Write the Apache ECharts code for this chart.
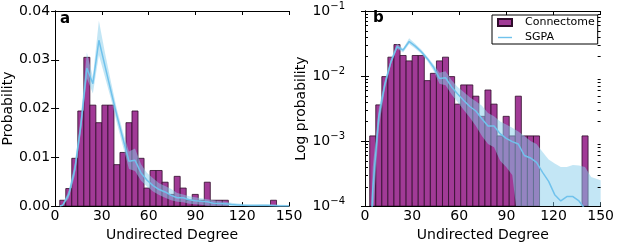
<!DOCTYPE html>
<html>
<head>
<meta charset="utf-8">
<script src="https://cdn.jsdelivr.net/npm/echarts@6/dist/echarts.min.js"></script>
<style>
  html, body { margin: 0; padding: 0; background: #fff; }
  #myChart { width: 617px; height: 247px; }
</style>
</head>
<body>
<div id="myChart"></div>
<script>
  // histogram bin edges (undirected degree)
  var binEdges = [3.00, 6.86, 10.72, 14.58, 18.44, 22.31, 26.17, 30.03, 33.89, 37.75,
    41.61, 45.47, 49.33, 53.19, 57.06, 60.92, 64.78, 68.64, 72.50, 76.36,
    80.22, 84.08, 87.94, 91.81, 95.67, 99.53, 103.39, 107.25, 111.11, 114.97,
    118.83, 122.69, 126.56, 130.42, 134.28, 138.14, 142.00];
  // connectome probability per bin
  var connectomeProb = [0.0012, 0.0036, 0.0098, 0.0195, 0.0305, 0.0207, 0.0171, 0.0207, 0.0207, 0.0085,
    0.0110, 0.0171, 0.0195, 0.0098, 0.0037, 0.0073, 0.0073, 0.0049, 0.0024, 0.0061,
    0.0037, 0.0012, 0.0024, 0.0012, 0.0049, 0.0012, 0.0012, 0.0012, 0, 0,
    0, 0, 0, 0, 0, 0.0012];
  // SGPA model: mean and band
  var sgpaDegree = [3.0, 4.93, 8.79, 12.65, 16.51, 20.38, 24.24, 28.10, 31.96, 35.82,
    39.68, 43.54, 47.40, 51.26, 55.13, 58.99, 62.85, 66.71, 70.57, 74.43,
    78.29, 82.15, 86.01, 89.88, 93.74, 97.60, 101.46, 105.32, 109.18, 113.04,
    116.90, 120.76, 124.63, 128.49, 132.35, 136.21, 140.07, 143.93, 150];
  var sgpaMean = [0.00001, 0.00018, 0.0024, 0.0075, 0.0165, 0.0283, 0.0251, 0.0340, 0.0288, 0.0236,
    0.0185, 0.0138, 0.0092, 0.0094, 0.0068, 0.0053, 0.0042, 0.0034, 0.0029, 0.0022,
    0.0017, 0.0017, 0.0013, 0.0011, 0.00098, 0.0009, 0.0006, 0.00055, 0.00047, 0.00033,
    0.00024, 0.00015, 0.00012, 0.00014, 0.00014, 0.00012, 0.00009, 0.00004, 0.00003];
  var sgpaLow = [0.000001, 0.00006, 0.0016, 0.0062, 0.0150, 0.0262, 0.0231, 0.0310, 0.0265, 0.0220,
    0.0170, 0.0122, 0.0076, 0.0072, 0.0052, 0.0040, 0.0030, 0.0023, 0.0017, 0.0012,
    0.0009, 0.0008, 0.0005, 0.0004, 0.0003, 0.00005, 0.00001, 0.00001, 0.00001, 0.00001,
    0.00001, 0.00001, 0.00001, 0.00001, 0.00001, 0.00001, 0.00001, 0.00001, 0.00001];
  var sgpaHigh = [0.00002, 0.0004, 0.0032, 0.0088, 0.0182, 0.0315, 0.0265, 0.0380, 0.0315, 0.0255,
    0.0198, 0.0152, 0.0112, 0.0118, 0.0086, 0.0068, 0.0057, 0.0047, 0.0041, 0.0035,
    0.0027, 0.0024, 0.0020, 0.0018, 0.0016, 0.0014, 0.0012, 0.0010, 0.0009, 0.00068,
    0.00052, 0.00045, 0.00040, 0.00040, 0.00043, 0.00042, 0.00040, 0.00028, 0.00025];
  // minor ticks of the log axis
  var logMinorTicks = [0.0002, 0.0003, 0.0004, 0.0005, 0.0006, 0.0007, 0.0008, 0.0009,
    0.002, 0.003, 0.004, 0.005, 0.006, 0.007, 0.008, 0.009,
    0.02, 0.03, 0.04, 0.05, 0.06, 0.07, 0.08, 0.09];

  var FONT = 'DejaVu Sans';
  var BAR = '#a13a96';
  var SKY = '#87ceeb';
  var LINE = '#70c2ec';

  var myChart = echarts.init(document.getElementById('myChart'), null, {renderer: 'canvas'});

  function barData() {
    var out = [];
    for (var i = 0; i < connectomeProb.length; i++) {
      if (connectomeProb[i] <= 0) continue;
      out.push([binEdges[i], binEdges[i + 1], connectomeProb[i]]);
    }
    return out;
  }

  function histRender(base) {
    return function (params, api) {
      var p0 = api.coord([api.value(0), api.value(2)]);
      var p1 = api.coord([api.value(1), base]);
      return {
        type: 'rect',
        shape: {x: p0[0], y: p0[1], width: p1[0] - p0[0], height: p1[1] - p0[1]},
        style: {fill: BAR, stroke: '#2e0c2a', lineWidth: 0.8}
      };
    };
  }

  // shaded SGPA band: upper edge forward, lower edge back
  function bandRender(params, api) {
    var pts = [];
    for (var i = 0; i < sgpaDegree.length; i++) pts.push(api.coord([sgpaDegree[i], sgpaHigh[i]]));
    for (var j = sgpaDegree.length - 1; j >= 0; j--) pts.push(api.coord([sgpaDegree[j], sgpaLow[j]]));
    return {
      type: 'polygon',
      shape: {points: pts},
      style: {fill: SKY, opacity: 0.5}
    };
  }

  // short inside ticks on both log axes
  function minorTickRender(params, api) {
    var l = api.coord([0, api.value(1)]);
    var r = api.coord([150, api.value(1)]);
    var y = Math.round(l[1]) + 0.5;
    return {
      type: 'group',
      children: [
        {type: 'line', shape: {x1: l[0], y1: y, x2: l[0] + 3, y2: y}, style: {stroke: '#000', lineWidth: 1}},
        {type: 'line', shape: {x1: r[0] - 3, y1: y, x2: r[0], y2: y}, style: {stroke: '#000', lineWidth: 1}}
      ]
    };
  }

  function pairs(ys) {
    return sgpaDegree.map(function (x, i) { return [x, ys[i]]; });
  }

  function xAx(grid, pos, show) {
    return {
      type: 'value', gridIndex: grid, position: pos, min: 0, max: 150, interval: 30,
      axisLine: {show: true, onZero: false, lineStyle: {color: '#000', width: 1}},
      axisTick: {show: true, inside: true, length: 4, lineStyle: {color: '#000'}},
      axisLabel: {show: show, margin: 3, color: '#000', fontFamily: FONT, fontSize: 14},
      splitLine: {show: false},
      name: show ? 'Undirected Degree' : '', nameLocation: 'middle', nameGap: 21,
      nameTextStyle: {color: '#000', fontFamily: FONT, fontSize: 14}
    };
  }

  function yLin(pos, show) {
    return {
      type: 'value', gridIndex: 0, position: pos, min: 0, max: 0.04, interval: 0.01,
      axisLine: {show: true, lineStyle: {color: '#000', width: 1}},
      axisTick: {show: true, inside: true, length: 4, lineStyle: {color: '#000'}},
      axisLabel: {show: show, margin: 5, color: '#000', fontFamily: FONT, fontSize: 14,
        formatter: function (v) { return v.toFixed(2); }},
      splitLine: {show: false},
      name: show ? 'Probability' : '', nameLocation: 'middle', nameGap: 40,
      nameTextStyle: {color: '#000', fontFamily: FONT, fontSize: 14}
    };
  }

  function yLog(pos, show) {
    return {
      type: 'log', logBase: 10, gridIndex: 1, position: pos, min: 0.0001, max: 0.1,
      axisLine: {show: true, lineStyle: {color: '#000', width: 1}},
      axisTick: {show: true, inside: true, length: 4, lineStyle: {color: '#000'}},
      axisLabel: {show: show, margin: 20, color: '#000', fontFamily: FONT, fontSize: 14,
        formatter: function (v) { return '10{s|\u2212' + Math.round(-Math.log10(v)) + '}'; },
        rich: {s: {fontSize: 10, fontFamily: FONT, color: '#000', padding: [0, 0, 9, 0]}}},
      splitLine: {show: false},
      name: show ? 'Log probability' : '', nameLocation: 'middle', nameGap: 40,
      nameTextStyle: {color: '#000', fontFamily: FONT, fontSize: 14}
    };
  }

  function sgpaSeries(xi, yi) {
    return [
      {
        type: 'custom', xAxisIndex: xi, yAxisIndex: yi, renderItem: bandRender,
        data: [[75, 0.001]], clip: true, silent: true, z: 3
      },
      {
        name: 'SGPA', type: 'line', xAxisIndex: xi, yAxisIndex: yi,
        data: pairs(sgpaMean), symbol: 'none', showSymbol: false, clip: true,
        itemStyle: {color: LINE},
        lineStyle: {color: LINE, width: 1.5}, z: 4
      }
    ];
  }

  var option = {
    animation: false,
    backgroundColor: '#fff',
    textStyle: {fontFamily: FONT},
    grid: [
      {left: 53, right: 328, top: 11, bottom: 36},
      {left: 365, right: 14, top: 11, bottom: 36}
    ],
    xAxis: [xAx(0, 'bottom', true), xAx(0, 'top', false), xAx(1, 'bottom', true), xAx(1, 'top', false)],
    yAxis: [yLin('left', true), yLin('right', false), yLog('left', true), yLog('right', false)],
    legend: {
      data: [
        {name: 'Connectome', icon: 'rect'},
        {name: 'SGPA', icon: 'path://M0,0 L20,0 L20,2 L0,2 Z', itemStyle: {color: LINE}}
      ],
      orient: 'vertical', left: 492, top: 15,
      itemWidth: 14, itemHeight: 7, itemGap: 4,
      padding: [2, 3, 1, 5],
      borderColor: '#000', borderWidth: 1, borderRadius: 0,
      textStyle: {fontFamily: FONT, fontSize: 11, color: '#000', padding: [0, 0, 0, 8]}
    },
    graphic: [
      {type: 'text', left: 60, top: 12, style: {text: 'a', font: 'bold 15px "DejaVu Sans"', fill: '#000'}},
      {type: 'text', left: 373, top: 11, style: {text: 'b', font: 'bold 15px "DejaVu Sans"', fill: '#000'}}
    ],
    series: [
      {
        name: 'Connectome', type: 'custom', xAxisIndex: 0, yAxisIndex: 0,
        renderItem: histRender(0), data: barData(), clip: true,
        itemStyle: {color: BAR, borderColor: '#2e0c2a', borderWidth: 1}, z: 2
      },
      {
        name: 'Connectome', type: 'custom', xAxisIndex: 2, yAxisIndex: 2,
        renderItem: histRender(0.0001), data: barData(), clip: true,
        itemStyle: {color: BAR, borderColor: '#2e0c2a', borderWidth: 1}, z: 2
      },
      {
        type: 'custom', xAxisIndex: 2, yAxisIndex: 2, renderItem: minorTickRender,
        data: logMinorTicks.map(function (v) { return [75, v]; }), silent: true, z: 10
      }
    ].concat(sgpaSeries(0, 0)).concat(sgpaSeries(2, 2))
  };

  myChart.setOption(option);
</script>
</body>
</html>
